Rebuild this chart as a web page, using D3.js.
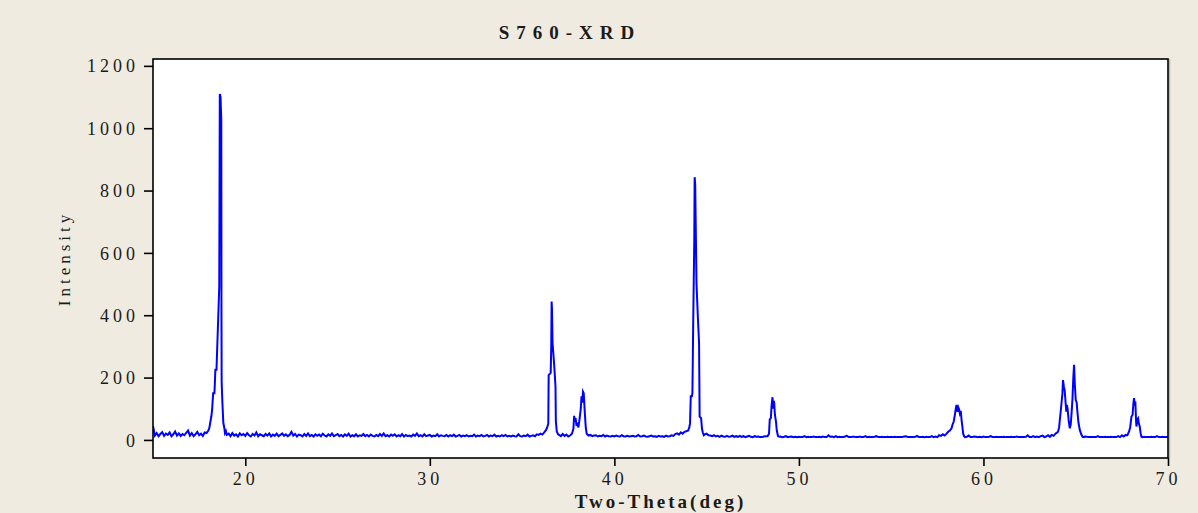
<!DOCTYPE html>
<html>
<head>
<meta charset="utf-8">
<script src="https://cdn.jsdelivr.net/npm/d3@7"></script>
<style>
  html, body { margin: 0; padding: 0; background: #efebe0; }
  text { font-family: "Liberation Serif", "Times New Roman", serif; fill: #1a1a1a; }
</style>
</head>
<body>
<div id="chart"></div>
<script>
// chart text
const title = "S760-XRD";
const xLabel = "Two-Theta(deg)";
const yLabel = "Intensity";
const xTicks = [20, 30, 40, 50, 60, 70];
const yTicks = [0, 200, 400, 600, 800, 1000, 1200];

// background counts, one value every 0.1 deg from 15.0 (rows = one degree)
const bgStart = 15.0, bgStep = 0.1;
const background = [
  45, 14, 22, 12, 19, 25, 13, 20, 16, 24,   // 15
  12, 18, 27, 14, 21, 13, 19, 15, 23, 30,   // 16
  14, 22, 12, 18, 26, 15, 20, 13, 24, 17,   // 17
  20, 15, 18, 14, 17, 16, 15, 17, 16, 18,   // 18
  16, 20, 12, 22, 14, 18, 11, 21, 15, 19,   // 19
  13, 22, 15, 11, 19, 14, 24, 12, 18, 15,   // 20
  12, 19, 14, 21, 11, 17, 13, 20, 12, 16,   // 21
  21, 13, 18, 12, 16, 26, 14, 19, 11, 17,   // 22
  15, 11, 19, 13, 21, 12, 16, 11, 18, 13,   // 23
  17, 12, 20, 14, 11, 18, 13, 21, 12, 15,   // 24
  19, 12, 16, 11, 18, 13, 20, 11, 15, 12,   // 25
  18, 11, 15, 13, 19, 12, 16, 11, 17, 13,   // 26
  11, 16, 12, 19, 13, 21, 12, 15, 11, 17,   // 27
  13, 18, 11, 15, 12, 19, 11, 16, 12, 14,   // 28
  11, 17, 13, 21, 12, 15, 11, 18, 12, 14,   // 29
  16, 11, 14, 12, 18, 11, 15, 13, 12, 16,   // 30
  11, 15, 12, 17, 11, 13, 16, 11, 14, 12,   // 31
  15, 11, 13, 12, 17, 11, 14, 12, 16, 11,   // 32
  13, 16, 11, 14, 12, 17, 11, 13, 11, 15,   // 33
  12, 16, 11, 13, 11, 14, 12, 11, 18, 12,   // 34
  11, 14, 12, 17, 11, 13, 15, 12, 18, 16,   // 35
  20, 17, 24, 22, 28, 30, 25, 14, 18, 13,   // 36
  16, 12, 19, 13, 17, 11, 20, 18, 22, 20,   // 37
  18, 16, 20, 14, 17, 13, 15, 16, 12, 14,   // 38
  15, 11, 13, 12, 16, 11, 14, 12, 11, 13,   // 39
  11, 14, 12, 11, 15, 12, 11, 13, 11, 12,   // 40
  13, 11, 12, 16, 11, 12, 14, 11, 10, 12,   // 41
  14, 11, 12, 10, 13, 11, 12, 10, 14, 11,   // 42
  12, 15, 13, 19, 21, 17, 24, 20, 26, 22,   // 43
  26, 24, 22, 25, 20, 22, 20, 24, 20, 18,   // 44
  20, 15, 14, 12, 15, 11, 13, 10, 14, 11,   // 45
  10, 13, 10, 11, 14, 10, 12, 10, 13, 10,   // 46
  12,  9, 11, 13, 10,  9, 12, 10, 11,  9,   // 47
   9, 11, 12, 10, 14, 12, 10, 11, 12, 10,   // 48
  11,  9, 10, 12,  9, 10, 11,  9, 10,  9,   // 49
  10,  9,  9, 12,  9, 10,  9,  9, 11,  9,   // 50
   9, 10,  9, 11,  9,  9, 15, 10, 11,  9,   // 51
  12,  9, 10,  9,  9, 11, 13,  9,  9, 10,   // 52
  10,  9,  9, 11,  9,  9, 12,  9, 10,  9,   // 53
   9, 10, 12,  9,  9, 10,  9,  9, 10,  9,   // 54
   9,  9, 10,  9,  9,  9,  9, 11, 12,  9,   // 55
   9,  9,  9, 10, 13,  9,  9, 10,  9, 10,   // 56
   9,  9, 12,  9, 11,  9, 15, 13, 18, 16,   // 57
  22, 18, 25, 20, 18, 16, 15, 14, 15, 13,   // 58
  12, 10, 14,  9,  9, 11, 10,  9, 10,  9,   // 59
  11,  9,  9, 10, 12,  9,  9, 10,  9,  9,   // 60
   9, 10,  9,  9,  9, 10,  9,  9, 11,  9,   // 61
   9,  9,  9, 10, 15,  9,  9, 12,  9, 11,   // 62
   9, 12, 14,  9, 11, 15, 10, 16, 13, 18,   // 63
  20, 18, 17, 16, 15, 15, 14, 14, 13, 14,   // 64
  13, 12, 12, 14, 13, 11, 10,  9,  9,  9,   // 65
   9,  9, 12,  9,  9,  9, 10,  9,  9, 10,   // 66
   9,  9,  9, 12,  9, 15, 11, 16, 14, 18,   // 67
  15, 13, 12, 11, 10, 10,  9, 10,  9,  9,   // 68
   9, 10,  9,  9, 12,  9,  9, 10,  9,  9,   // 69
   9                                        // 70
];

// peak profiles [two-theta, intensity]
const peak18 = [[17.9, 22], [18.0, 30], [18.05, 38], [18.1, 55], [18.16, 75], [18.2, 95],
  [18.26, 150], [18.33, 150], [18.38, 225], [18.44, 225], [18.59, 491], [18.62, 1110],
  [18.66, 1100], [18.70, 1027], [18.71, 400], [18.72, 186], [18.76, 120], [18.81, 55],
  [18.86, 40], [18.9, 22], [18.95, 28], [19.0, 16]];
const peak36 = [[36.2, 24], [36.3, 32], [36.36, 40], [36.42, 53], [36.44, 208], [36.55, 215],
  [36.58, 300], [36.60, 444], [36.62, 420], [36.65, 311], [36.74, 240], [36.81, 171],
  [36.83, 60], [36.88, 27], [36.95, 18]];
const peak38 = [[37.6, 14], [37.7, 20], [37.78, 35], [37.82, 77], [37.87, 60], [37.9, 70],
  [37.95, 45], [38.0, 55], [38.05, 40], [38.1, 60], [38.18, 100], [38.22, 140], [38.26, 120],
  [38.3, 155], [38.34, 150], [38.4, 86], [38.45, 40], [38.5, 20], [38.6, 14]];
const peak44 = [[43.9, 28], [44.0, 30], [44.06, 40], [44.1, 53], [44.14, 140], [44.2, 140],
  [44.23, 150], [44.27, 364], [44.33, 640], [44.35, 843], [44.38, 820], [44.42, 640],
  [44.45, 503], [44.52, 400], [44.59, 310], [44.62, 75], [44.7, 70], [44.75, 35],
  [44.8, 22], [44.85, 15]];
const peak48 = [[48.3, 12], [48.38, 20], [48.42, 66], [48.48, 70], [48.52, 110], [48.57, 137],
  [48.6, 100], [48.63, 125], [48.66, 120], [48.7, 80], [48.76, 58], [48.8, 30],
  [48.87, 12], [48.95, 10]];
const peak58 = [[57.9, 14], [58.0, 20], [58.1, 27], [58.18, 30], [58.27, 37], [58.33, 50],
  [58.39, 59], [58.45, 80], [58.5, 100], [58.54, 112], [58.6, 90], [58.64, 104], [58.68, 98],
  [58.72, 85], [58.77, 93], [58.82, 60], [58.87, 37], [58.9, 20], [58.95, 12], [59.0, 9]];
const peak64 = [[63.9, 20], [64.0, 24], [64.04, 26], [64.1, 40], [64.13, 59], [64.22, 112],
  [64.28, 150], [64.31, 192], [64.36, 170], [64.40, 160], [64.45, 120], [64.49, 91],
  [64.52, 112], [64.56, 100], [64.62, 60], [64.68, 37], [64.73, 50], [64.78, 90],
  [64.82, 128], [64.87, 200], [64.91, 241], [64.95, 180], [65.0, 128], [65.05, 120],
  [65.09, 91], [65.15, 55], [65.22, 32], [65.3, 18], [65.37, 10], [65.45, 9]];
const peak68 = [[67.8, 15], [67.89, 27], [67.95, 40], [68.02, 75], [68.08, 80], [68.13, 120],
  [68.16, 134], [68.2, 110], [68.23, 123], [68.27, 60], [68.29, 43], [68.34, 65],
  [68.38, 69], [68.43, 50], [68.47, 43], [68.52, 20], [68.56, 10], [68.6, 9]];

const peaks = [peak18, peak36, peak38, peak44, peak48, peak58, peak64, peak68];

// merge background and peaks into one pattern
let pattern = [];
background.forEach((v, i) => {
    const t = +(bgStart + i * bgStep).toFixed(2);
    const inPeak = peaks.some(p => t >= p[0][0] && t <= p[p.length - 1][0]);
    if (!inPeak) pattern.push([t, v]);
});
peaks.forEach(p => p.forEach(d => pattern.push(d)));
pattern.sort((a, b) => a[0] - b[0]);

const W = 1198, H = 513;
const plot = {left: 153, top: 59, right: 1168, bottom: 458};

const svg = d3.select("#chart")
    .append("svg")
        .attr("width", W)
        .attr("height", H)
        .style("display", "block");

const x = d3.scaleLinear()
    .domain([15, 70])
    .range([plot.left, plot.right]);

const y = d3.scaleLinear()
    .domain([-58, 1222])
    .range([plot.bottom, plot.top]);

// plot area
svg.append("rect")
    .attr("x", plot.left)
    .attr("y", plot.top)
    .attr("width", plot.right - plot.left)
    .attr("height", plot.bottom - plot.top)
    .attr("fill", "#fff");

svg.append("defs").append("clipPath")
    .attr("id", "clip")
    .append("rect")
        .attr("x", plot.left)
        .attr("y", plot.top)
        .attr("width", plot.right - plot.left)
        .attr("height", plot.bottom - plot.top);

svg.append("path")
    .datum(pattern)
    .attr("clip-path", "url(#clip)")
    .attr("fill", "none")
    .attr("stroke", "#0000ff")
    .attr("stroke-width", 2)
    .attr("stroke-linejoin", "miter")
    .attr("d", d3.line()
        .x(d => x(d[0]))
        .y(d => y(d[1]))
    );

// shadow on right edge
svg.append("line")
    .attr("x1", plot.right + 1.5).attr("x2", plot.right + 1.5)
    .attr("y1", plot.top).attr("y2", plot.bottom)
    .attr("stroke", "#b8b6b0")
    .attr("stroke-width", 1.5);

svg.append("rect")
    .attr("x", plot.left)
    .attr("y", plot.top)
    .attr("width", plot.right - plot.left)
    .attr("height", plot.bottom - plot.top)
    .attr("fill", "none")
    .attr("stroke", "#000")
    .attr("stroke-width", 1.6);

// axes
const xAxis = svg.append("g")
    .attr("transform", `translate(0,${plot.bottom})`)
    .call(d3.axisBottom(x).tickValues(xTicks).tickFormat(d3.format("d"))
        .tickSize(8).tickPadding(6).tickSizeOuter(0));

const yAxis = svg.append("g")
    .attr("transform", `translate(${plot.left},0)`)
    .call(d3.axisLeft(y).tickValues(yTicks).tickFormat(d3.format("d"))
        .tickSize(9).tickPadding(5).tickSizeOuter(0));

[xAxis, yAxis].forEach(g => {
    g.select(".domain").remove();
    g.selectAll(".tick line").attr("stroke", "#000").attr("stroke-width", 1.6);
    g.selectAll(".tick text")
        .style("font-family", '"Liberation Serif", serif')
        .style("font-size", "18px")
        .style("letter-spacing", "4px")
        .attr("fill", "#1a1a1a");
});
yAxis.selectAll(".tick text").attr("dy", "0.34em");

// titles
svg.append("text")
    .attr("x", 570)
    .attr("y", 39)
    .attr("text-anchor", "middle")
    .style("font-size", "19px")
    .style("font-weight", "bold")
    .style("letter-spacing", "7px")
    .text(title);

svg.append("text")
    .attr("x", (plot.left + plot.right) / 2)
    .attr("y", 508)
    .attr("text-anchor", "middle")
    .style("font-size", "19px")
    .style("font-weight", "bold")
    .style("letter-spacing", "3px")
    .text(xLabel);

svg.append("text")
    .attr("transform", `translate(70,${(plot.top + plot.bottom) / 2}) rotate(-90)`)
    .attr("text-anchor", "middle")
    .style("font-size", "17px")
    .style("letter-spacing", "4px")
    .text(yLabel);
</script>
</body>
</html>
